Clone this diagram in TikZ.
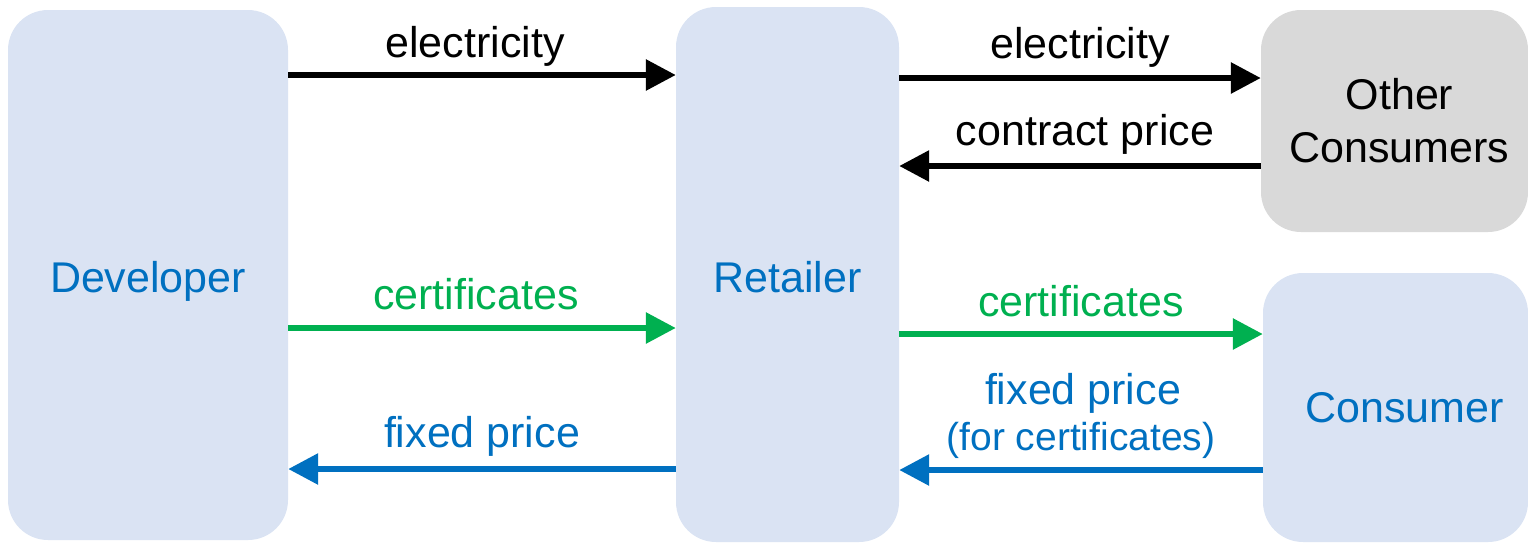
\documentclass[tikz,border=0pt]{standalone}
\usepackage{fontspec}
\setmainfont{Liberation Sans}
\usetikzlibrary{arrows.meta}
\definecolor{boxblue}{HTML}{DAE3F3}
\definecolor{boxgray}{HTML}{D9D9D9}
\definecolor{tgreen}{HTML}{00B050}
\definecolor{tblue}{HTML}{0070C0}
\tikzset{
  party/.style={rounded corners=40pt, inner sep=0pt, align=center, font=\fontsize{43}{53}\selectfont},
  ptext/.style={text=tblue, font=\fontsize{43}{53}\selectfont, inner sep=0pt},
  flow/.style={line width=6pt, -{Triangle[length=30pt,width=30pt]}},
  lbl/.style={anchor=base, font=\fontsize{43}{48}\selectfont, align=center},
}
\begin{document}
\begin{tikzpicture}[x=1pt,y=-1pt]
\useasboundingbox (0,0) rectangle (1528,542);
\node[party, fill=boxblue, minimum width=280pt, minimum height=530pt, label={[ptext, yshift=-6pt]center:Developer}] (dev) at (148,275) {};
\node[party, fill=boxblue, minimum width=223pt, minimum height=535pt, label={[ptext, yshift=-3pt]center:Retailer}] (ret) at (787.5,274.5) {};
\node[party, fill=boxgray, text=black, minimum width=267pt, minimum height=222pt] (oth) at (1394.5,121) {\hspace*{10pt}Other\\\hspace*{10pt}Consumers};
\node[party, fill=boxblue, text=tblue, minimum width=265pt, minimum height=269pt] (con) at (1395.5,407.5) {\hspace*{18pt}Consumer};
\coordinate (y1) at (0,75);
\coordinate (y2) at (0,78);
\coordinate (y3) at (0,166);
\coordinate (y4) at (0,328);
\coordinate (y5) at (0,334);
\coordinate (y6) at (0,469);
\coordinate (y7) at (0,470);
\draw[flow, black] (dev.east |- y1) -- (ret.west |- y1) node[lbl, midway, yshift=18pt, xshift=-7pt] {electricity};
\draw[flow, black] (ret.east |- y2) -- (oth.west |- y2) node[lbl, midway, yshift=20pt] {electricity};
\draw[flow, black] (oth.west |- y3) -- (ret.east |- y3) node[lbl, midway, yshift=21pt, xshift=5pt] {contract price};
\draw[flow, tgreen] (dev.east |- y4) -- (ret.west |- y4) node[lbl, midway, yshift=19pt, xshift=-6pt] {certificates};
\draw[flow, tgreen] (ret.east |- y5) -- (con.west |- y5) node[lbl, midway, yshift=18pt] {certificates};
\draw[flow, tblue] (ret.west |- y6) -- (dev.east |- y6) node[lbl, midway, yshift=22pt] {fixed price};
\draw[flow, tblue] (con.west |- y7) -- (ret.east |- y7) node[lbl, midway, yshift=66pt, xshift=2pt] {fixed price} node[lbl, midway, yshift=20pt, font=\fontsize{39}{44}\selectfont] {(for certificates)};
\end{tikzpicture}
\end{document}
